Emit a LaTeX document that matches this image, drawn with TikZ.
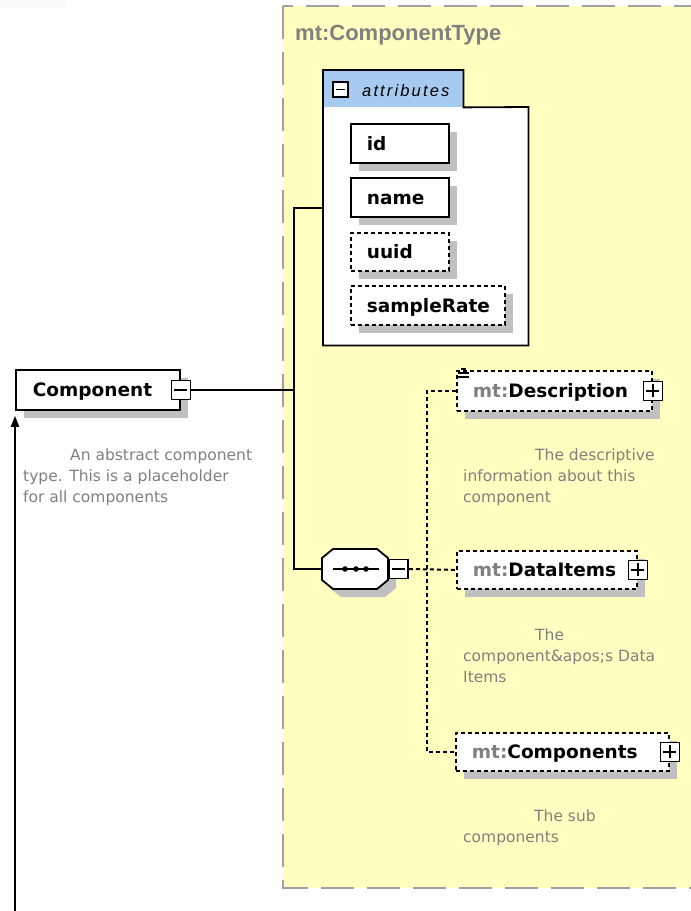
\documentclass[tikz,border=0pt]{standalone}
\usepackage{fontspec}
\usetikzlibrary{shadows,arrows.meta}
\newfontfamily\elfont{DejaVu Sans}
\newfontfamily\notefont{DejaVu Sans}
\newfontfamily\titlefont{Liberation Sans}
\newfontfamily\tabfont{Liberation Sans}[LetterSpace=13]
\definecolor{panelfill}{RGB}{255,255,192}
\definecolor{panelline}{RGB}{160,160,160}
\definecolor{tabblue}{RGB}{166,202,240}
\definecolor{shgray}{RGB}{192,192,192}
\definecolor{notegray}{RGB}{128,128,128}
\tikzset{
  elembox/.style={draw=black, line width=1.8pt, fill=white, anchor=north west,
    inner xsep=16pt, inner ysep=0pt, align=left, text height=13.5pt, text depth=0pt,
    font=\elfont\bfseries\fontsize{18.5}{22}\selectfont,
    general shadow={shadow xshift=8pt, shadow yshift=-8pt, fill=shgray}},
  optbox/.style={elembox, dash pattern=on 4pt off 3pt},
  pmicon/.style={draw=black, line width=1.6pt, fill=white, minimum size=19pt, inner sep=0pt},
  minusicon/.style={pmicon, path picture={
    \draw[line width=1.5pt] ([xshift=3pt]path picture bounding box.west) -- ([xshift=-3pt]path picture bounding box.east);}},
  plusicon/.style={pmicon, path picture={
    \draw[line width=1.5pt] ([xshift=3pt]path picture bounding box.west) -- ([xshift=-3pt]path picture bounding box.east);
    \draw[line width=1.5pt] ([yshift=3pt]path picture bounding box.south) -- ([yshift=-3pt]path picture bounding box.north);}},
  conn/.style={draw=black, line width=2pt},
  optconn/.style={draw=black, line width=2pt, dash pattern=on 4pt off 3pt},
  note/.style={anchor=base west, inner sep=0pt, align=left, text=notegray,
    font=\notefont\fontsize{15.5}{21}\selectfont}
}
\newcommand\mtp{\textcolor{notegray}{mt:}}
\begin{document}
\begin{tikzpicture}[x=1pt, y=-1pt]
\useasboundingbox (0,0) rectangle (691,911);
\clip (0,0) rectangle (691,911);
\fill[white] (0,0) rectangle (691,911);
\fill[gray!4] (0,0) rectangle (65,9);

% complex type panel
\draw[panelline, fill=panelfill, line width=2pt, dash pattern=on 33pt off 13pt] (283,6) rectangle (740,888);
\node[anchor=base west, inner sep=0pt, text=notegray,
  font=\titlefont\bfseries\fontsize{22}{26}\selectfont] (paneltitle) at (295,40) {mt:ComponentType};

% attribute group
\node[fill=white, anchor=north west, inner sep=0pt, minimum width=205pt, minimum height=238pt] (attrbody) at (323,107) {};
\node[fill=tabblue, anchor=north west, inner sep=0pt, minimum width=140pt, minimum height=37pt] (attrtab) at (323,70) {};
\draw[line width=1.8pt] (attrbody.south west) -- (attrtab.north west) -- (attrtab.north east)
  -- (attrtab.south east) -- (attrbody.north east) -- (attrbody.south east) -- cycle;
\node[minusicon, minimum size=15pt] (tabminus) at (340.5,89.5) {};
\node[anchor=base west, inner sep=0pt, font=\tabfont\itshape\fontsize{16.5}{20}\selectfont] (tablabel) at (362,96) {attributes};

\node[elembox, minimum height=39pt, text width=66pt] (id) at (350,123) {id};
\node[elembox, minimum height=39pt, text width=66pt] (name) at (350,177) {name};
\node[optbox, minimum height=38pt, text width=66pt] (uuid) at (350,232) {uuid};
\node[optbox, minimum height=39pt, text width=122pt] (samplerate) at (350,285) {\mbox{sampleRate}};

% root element
\node[elembox, minimum height=40pt, inner xsep=17pt, text width=130pt] (comp) at (15,369) {Component};
\node[minusicon] (cminus) at (comp.east) {};
\node[note] (compnote) at (23,502) {\hspace*{47pt}An abstract component\\type. This is a placeholder\\for all components};

% sequence compositor
\node[minimum width=66pt, minimum height=40pt, inner sep=0pt] (seq) at (355,569) {};
\begin{scope}[shift={(8,8)}]
  \fill[shgray] (322,558) -- (333,549) -- (377,549) -- (388,558) -- (388,580) -- (377,589) -- (333,589) -- (322,580) -- cycle;
\end{scope}
\filldraw[fill=white, line width=1.8pt] (322,558) -- (333,549) -- (377,549) -- (388,558) -- (388,580) -- (377,589) -- (333,589) -- (322,580) -- cycle;
\draw[line width=2pt] (333,569) -- (379,569);
\foreach \dx in {345,356,366} \fill (\dx,569) circle[radius=2.8pt];
\node[minusicon, anchor=west] (seqminus) at (seq.east) {};

% child elements
\node[optbox, minimum height=40pt, text width=163pt] (desc) at (456,370) {\mtp Description};
\node[plusicon] (descplus) at (desc.east) {};
\draw[line width=1.2pt] (461,369) -- (466,369) (458,373) -- (469,373) (458,377) -- (469,377);
\node[note] (descnote) at (463,502) {\hspace*{72pt}The descriptive\\information about this\\component};

\node[optbox, minimum height=38pt, text width=148pt] (dataitems) at (456,550) {\mtp DataItems};
\node[plusicon] (diplus) at (dataitems.east) {};
\node[note] (dinote) at (463,682) {\hspace*{72pt}The\\component\&apos;s Data\\Items};

\node[optbox, minimum height=38pt, text width=181pt] (comps) at (455,732) {\mtp Components};
\node[plusicon] (compsplus) at (comps.east) {};
\node[note] (compsnote) at (463,842) {\hspace*{71pt}The sub\\components};

% connectors
\coordinate (jtop) at (294,208);
\coordinate (jbot) at (294,569);
\coordinate (jd) at (427,569);
\draw[conn] (cminus.east) -- (cminus.east -| jtop);
\draw[conn] (jtop -| attrbody.west) -- (jtop) -- (jbot) -- (seq.west);
\draw[optconn] (seqminus.east) -- (dataitems.west);
\draw[optconn] (desc.west) -| (jd) |- (comps.west);

% base type arrow
\coordinate (arrowfoot) at (15,911);
\draw[conn, -{Triangle[width=8pt,length=11pt]}] (arrowfoot) -- ([yshift=-5pt]comp.south west);
\end{tikzpicture}
\end{document}
